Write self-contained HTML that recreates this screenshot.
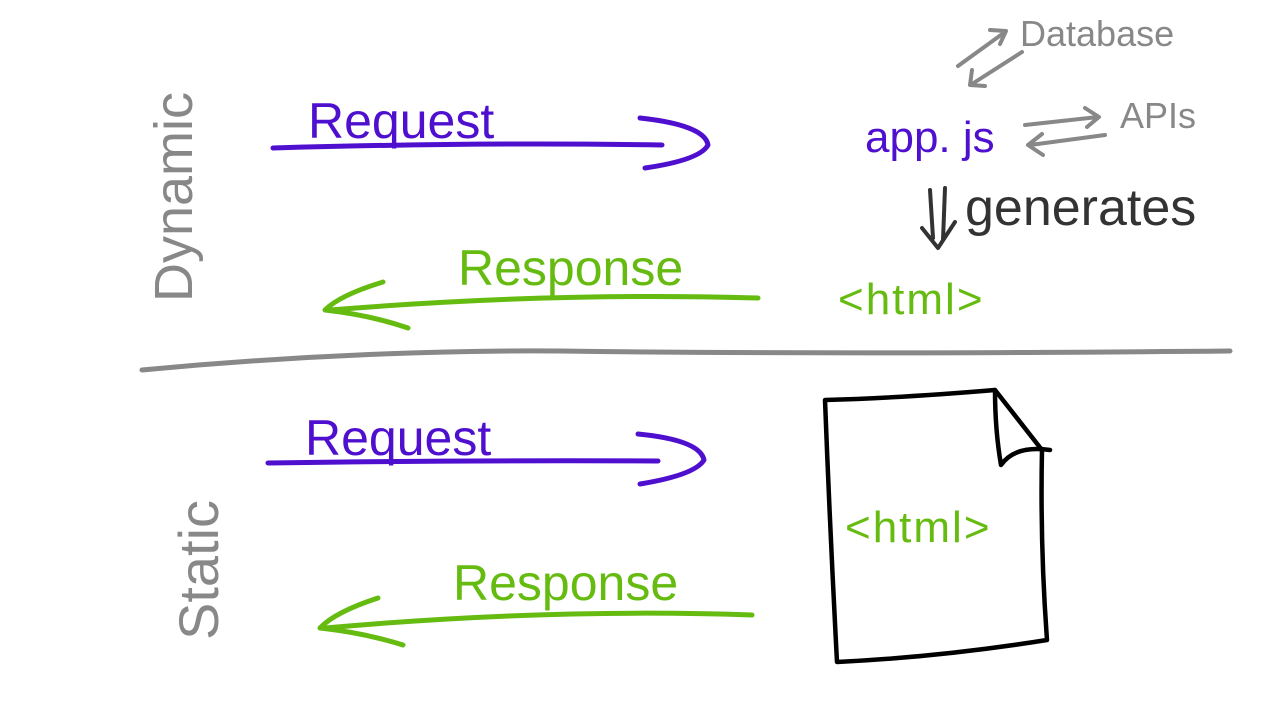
<!DOCTYPE html>
<html><head><meta charset="utf-8"><style>
html,body{margin:0;padding:0;background:#fff;}
svg{display:block;}
text{font-family:"Liberation Sans",sans-serif;}
</style></head><body>
<svg width="1280" height="720" viewBox="0 0 1280 720" xmlns="http://www.w3.org/2000/svg">
<g fill="none" stroke-linecap="round" stroke-linejoin="round">
<path d="M142 370 C 300 355 450 350 560 351 C 800 354 1000 353 1230 351" stroke="#888" stroke-width="5"/>
<path d="M273 148 Q 480 142 662 145" stroke="#4f0fcf" stroke-width="5"/>
<path d="M640 118 Q 705 125 708 145 Q 700 160 645 168" stroke="#4f0fcf" stroke-width="5"/>
<path d="M758 298 Q 550 292 330 310" stroke="#66bb11" stroke-width="5"/>
<path d="M383 282 Q 340 295 325 310 Q 370 315 408 328" stroke="#66bb11" stroke-width="5"/>
<path d="M268 463 Q 480 460 658 461" stroke="#4f0fcf" stroke-width="5"/>
<path d="M638 434 Q 700 440 704 460 Q 695 475 640 484" stroke="#4f0fcf" stroke-width="5"/>
<path d="M752 615 Q 550 608 325 628" stroke="#66bb11" stroke-width="5"/>
<path d="M378 598 Q 335 612 320 628 Q 365 633 403 645" stroke="#66bb11" stroke-width="5"/>
<path d="M958 66 L 1005 32 M990 30 L1006 31 L1000 44" stroke="#888" stroke-width="4"/>
<path d="M1022 52 L 972 84 M972 70 L970 85 L985 86" stroke="#888" stroke-width="4"/>
<path d="M1025 125 L 1098 117 M1085 108 L1099 117 L1087 127" stroke="#888" stroke-width="4"/>
<path d="M1105 135 L 1030 145 M1042 134 L1028 145 L1043 155" stroke="#888" stroke-width="4"/>
<path d="M930 190 L 933 238 M945 188 L 943 240 M922 228 L 938 248 L 955 222" stroke="#333" stroke-width="4"/>
<path d="M825 400 Q 830 530 837 662 Q 940 657 1047 640 Q 1040 545 1042 450 L 995 390 Q 900 398 825 400" stroke="#000" stroke-width="4.5"/>
<path d="M995 390 Q 995 430 1001 465 Q 1015 445 1050 450" stroke="#000" stroke-width="4.5"/>
</g>
<text x="0" y="0" transform="translate(192,302) rotate(-90)" font-size="54" fill="#888">Dynamic</text>
<text x="0" y="0" transform="translate(218,640) rotate(-90)" font-size="56" fill="#888">Static</text>
<text x="308" y="138" font-size="50" fill="#4f0fcf">Request</text>
<text x="305" y="455" font-size="50" fill="#4f0fcf">Request</text>
<text x="458" y="285" font-size="50" fill="#66bb11">Response</text>
<text x="453" y="600" font-size="50" fill="#66bb11">Response</text>
<text x="865" y="152" font-size="44" fill="#4f0fcf">app. js</text>
<text x="1020" y="46" font-size="36" fill="#888">Database</text>
<text x="1120" y="128" font-size="36" fill="#888">APIs</text>
<text x="965" y="225" font-size="52" fill="#333">generates</text>
<text x="838" y="314" font-size="44" fill="#66bb11" letter-spacing="2">&lt;html&gt;</text>
<text x="845" y="542" font-size="44" fill="#66bb11" letter-spacing="2">&lt;html&gt;</text>
</svg>
</body></html>
